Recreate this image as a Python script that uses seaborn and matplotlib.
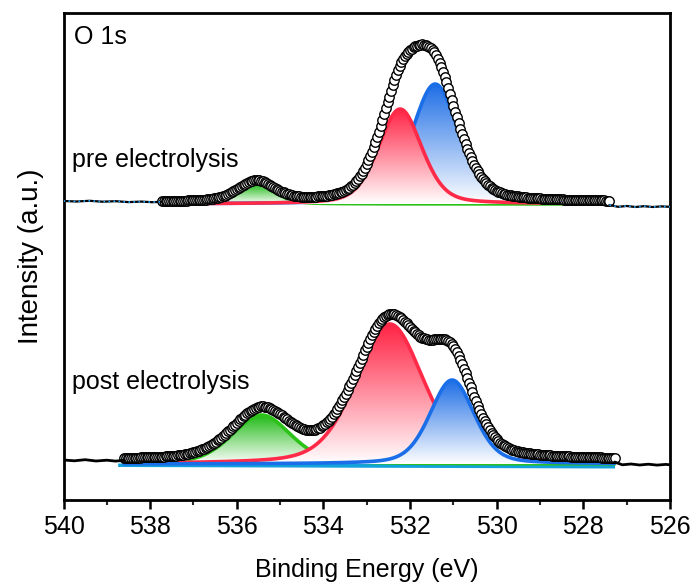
import numpy as np
import pandas as pd
import matplotlib
matplotlib.use("Agg")
import matplotlib.pyplot as plt
import seaborn as sns
from matplotlib.colors import LinearSegmentedColormap

# ---------------- data ----------------
# fitted components: blue (lattice O), red (OH / defects), green (adsorbed water)
comp_names = ["blue", "red", "green"]
pre_centers = [531.42, 532.23, 535.55]
pre_heights = [120, 95, 20]
pre_fwhm = [1.28, 1.18, 1.00]
post_centers = [531.03, 532.47, 535.43]
post_heights = [84, 140, 49]
post_fwhm = [1.20, 1.85, 1.60]
lorentz_frac = 0.32

pre_fit_range = [537.75, 527.40]
post_fit_range = [538.62, 527.28]
pre_base = 294.0
post_base = 34.0
pre_bg = 2.0
post_bg = 4.0

# raw spectrum outside the fitted window
pre_raw_left_x = [540.0, 539.7, 539.4, 539.1, 538.8, 538.5, 538.2, 537.95, 537.75]
pre_raw_left_y = [297.0, 296.5, 297.2, 296.3, 296.8, 295.9, 296.4, 295.8, 296.2]
pre_raw_right_x = [527.40, 527.2, 527.0, 526.8, 526.6, 526.4, 526.2, 526.0]
pre_raw_right_y = [293.0, 291.2, 292.0, 291.0, 291.8, 291.0, 291.6, 291.2]
post_raw_left_x = [540.0, 539.75, 539.5, 539.25, 539.0, 538.8, 538.62]
post_raw_left_y = [38.0, 37.2, 38.3, 37.0, 37.8, 36.9, 37.6]
post_raw_right_x = [527.28, 527.1, 526.9, 526.7, 526.5, 526.3, 526.1, 526.0]
post_raw_right_y = [36.0, 33.2, 34.0, 33.0, 33.8, 32.9, 33.6, 33.2]

line_colors = {"blue": "#1a6fe8", "red": "#ff2a48", "green": "#2cc21a"}
fill_colors = {"blue": "#1e6ee6", "red": "#ff2445", "green": "#22bb18"}

# ---------------- helpers ----------------
def component(x, c, h, w):
    g = np.exp(-4 * np.log(2) * ((x - c) / w) ** 2)
    lo = 1.0 / (1.0 + (2 * (x - c) / w) ** 2)
    return h * ((1 - lorentz_frac) * g + lorentz_frac * lo)


def gradient_fill(ax, x, base, y, color, z):
    poly = ax.fill_between(x, base, y, facecolor="none", edgecolor="none", zorder=z)
    path = poly.get_paths()[0]
    cmap = LinearSegmentedColormap.from_list("g", ["white", color])
    grad = np.linspace(0, 1, 256).reshape(-1, 1)
    top = y.max()
    im = ax.imshow(grad, extent=[x.min(), x.max(), base, top], cmap=cmap,
                   aspect="auto", origin="lower", zorder=z, interpolation="bilinear")
    im.set_clip_path(path, ax.transData)


sns.set_theme(style="ticks")
plt.rcParams["font.family"] = ["Liberation Sans", "DejaVu Sans"]

fig = plt.figure(figsize=(6.97, 5.88), dpi=100)
ax = fig.add_axes([63.5 / 697, 1 - 500 / 588, (670 - 63.5) / 697, (500 - 13) / 588])


def draw_spectrum(centers, heights, fwhms, rng, base, bg, order, zbase):
    x = np.arange(rng[1], rng[0] + 1e-9, 0.04)
    comps = {n: component(x, c, h, w) for n, c, h, w in zip(comp_names, centers, heights, fwhms)}
    z = zbase
    for n in order:
        y = base + comps[n]
        gradient_fill(ax, x, base, y, fill_colors[n], z)
        df = pd.DataFrame({"E": x, "I": y})
        sns.lineplot(data=df, x="E", y="I", ax=ax, color=line_colors[n], lw=2.6,
                     sort=False, zorder=z + 0.5)
        z += 1
    env = base + bg + sum(comps.values())
    df_env = pd.DataFrame({"E": x[::-1], "I": env[::-1]})
    sns.lineplot(data=df_env, x="E", y="I", ax=ax, color="black", lw=1.8, sort=False,
                 zorder=z)
    sns.scatterplot(data=df_env, x="E", y="I", ax=ax, marker="o", s=46,
                    facecolors="white", edgecolors="black", linewidth=1.0,
                    zorder=z + 1, legend=False)
    return x


# pre electrolysis
draw_spectrum(pre_centers, pre_heights, pre_fwhm, pre_fit_range, pre_base, pre_bg,
              ["green", "blue", "red"], 3)
for xs, ys in [(pre_raw_left_x, pre_raw_left_y), (pre_raw_right_x, pre_raw_right_y)]:
    ax.plot(xs, ys, color="black", lw=1.6, zorder=20)
    ax.plot(xs, ys, color="#29a8ff", lw=1.2, ls=(0, (1, 2)), zorder=21)

# post electrolysis: background band
ax.fill_between([538.75, 527.28], [post_base - 2.5, post_base - 4.0],
                [post_base + 1.0, post_base + 2.5], color="#13a2dc", lw=0, zorder=2)
draw_spectrum(post_centers, post_heights, post_fwhm, post_fit_range, post_base, post_bg,
              ["green", "red", "blue"], 3)
for xs, ys in [(post_raw_left_x, post_raw_left_y), (post_raw_right_x, post_raw_right_y)]:
    ax.plot(xs, ys, color="black", lw=2.0, zorder=20)

# ---------------- axes styling ----------------
ax.set_xlim(540, 526)
ax.set_ylim(-2, 485)
ax.set_xticks(np.arange(540, 525, -2))
ax.set_xticks(np.arange(539, 526, -2), minor=True)
ax.set_yticks([])
ax.tick_params(axis="x", which="major", direction="out", length=6.5, width=1.8,
               labelsize=18, pad=4, colors="black")
ax.tick_params(axis="x", which="minor", direction="out", length=3.5, width=1.5)
for s in ax.spines.values():
    s.set_linewidth(2.0)
    s.set_color("black")
ax.set_xlabel("Binding Energy (eV)", fontsize=18, labelpad=14, color="black")
ax.set_ylabel("Intensity (a.u.)", fontsize=20, labelpad=14, color="black")

ax.text(0.018, 0.95, "O 1s", transform=ax.transAxes, fontsize=18, va="center",
        ha="left", color="black")
ax.text(539.8, 338, "pre electrolysis", fontsize=18, va="center", ha="left",
        color="black")
ax.text(539.8, 116, "post electrolysis", fontsize=18, va="center", ha="left",
        color="black")

fig.savefig("out.png", dpi=100)
